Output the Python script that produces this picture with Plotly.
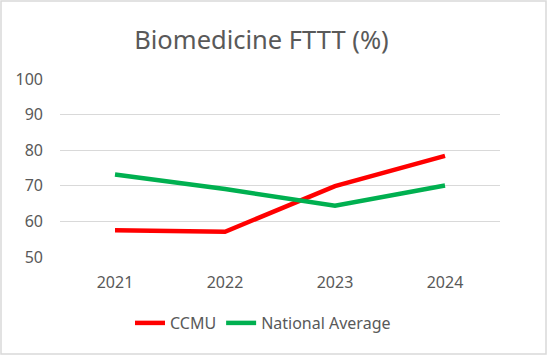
import plotly.graph_objects as go

years = ["2021", "2022", "2023", "2024"]
ccmu = [57.5, 57.1, 69.9, 78.4]
national = [73.2, 69.1, 64.4, 70.1]

W, H = 547, 355
L, R, T, B = 60, 47, 79, 98
pw, ph = W - L - R, H - T - B

fig = go.Figure()
fig.add_trace(go.Scatter(x=years, y=ccmu, mode="lines", name="CCMU",
                         line=dict(color="#FF0000", width=4.5)))
fig.add_trace(go.Scatter(x=years, y=national, mode="lines", name="National Average",
                         line=dict(color="#00B050", width=4.5)))

font = "Noto Sans, Open Sans, sans-serif"
fig.update_layout(
    width=W, height=H,
    margin=dict(l=L, r=R, t=T, b=B, autoexpand=False),
    paper_bgcolor="white", plot_bgcolor="white",
    title=dict(text="Biomedicine FTTT (%)", xref="container", x=261.5 / W,
               xanchor="center", y=1 - 40 / H, yanchor="middle",
               font=dict(family=font, size=25.5, color="#595959")),
    font=dict(family=font, size=16, color="#595959"),
    xaxis=dict(type="category", range=[-0.5, 3.5], showgrid=False, showline=False,
               zeroline=False, ticks="", automargin=False,
               tickfont=dict(size=16, color="#595959"), ticklabelstandoff=14),
    yaxis=dict(range=[50, 100], dtick=10, showgrid=True, gridcolor="#D9D9D9",
               gridwidth=1, zeroline=False, showline=False, ticks="", automargin=False,
               tickfont=dict(size=16, color="#595959"), ticklabelstandoff=16),
    showlegend=True,
    legend=dict(orientation="h", xref="container", x=263 / W, xanchor="center",
                yref="container", y=1 - 323 / H, yanchor="middle",
                font=dict(size=16, color="#595959"), traceorder="normal"),
    shapes=[dict(type="rect", xref="paper", yref="paper",
                 x0=-(L - 1) / pw, x1=1 + (R - 1) / pw,
                 y0=-(B - 1) / ph, y1=1 + (T - 1) / ph,
                 line=dict(color="#D9D9D9", width=1.5))],
)
fig.write_html("out.html", config={"displayModeBar": False},
               post_script="document.body.style.margin='0';document.body.style.overflow='hidden';")
